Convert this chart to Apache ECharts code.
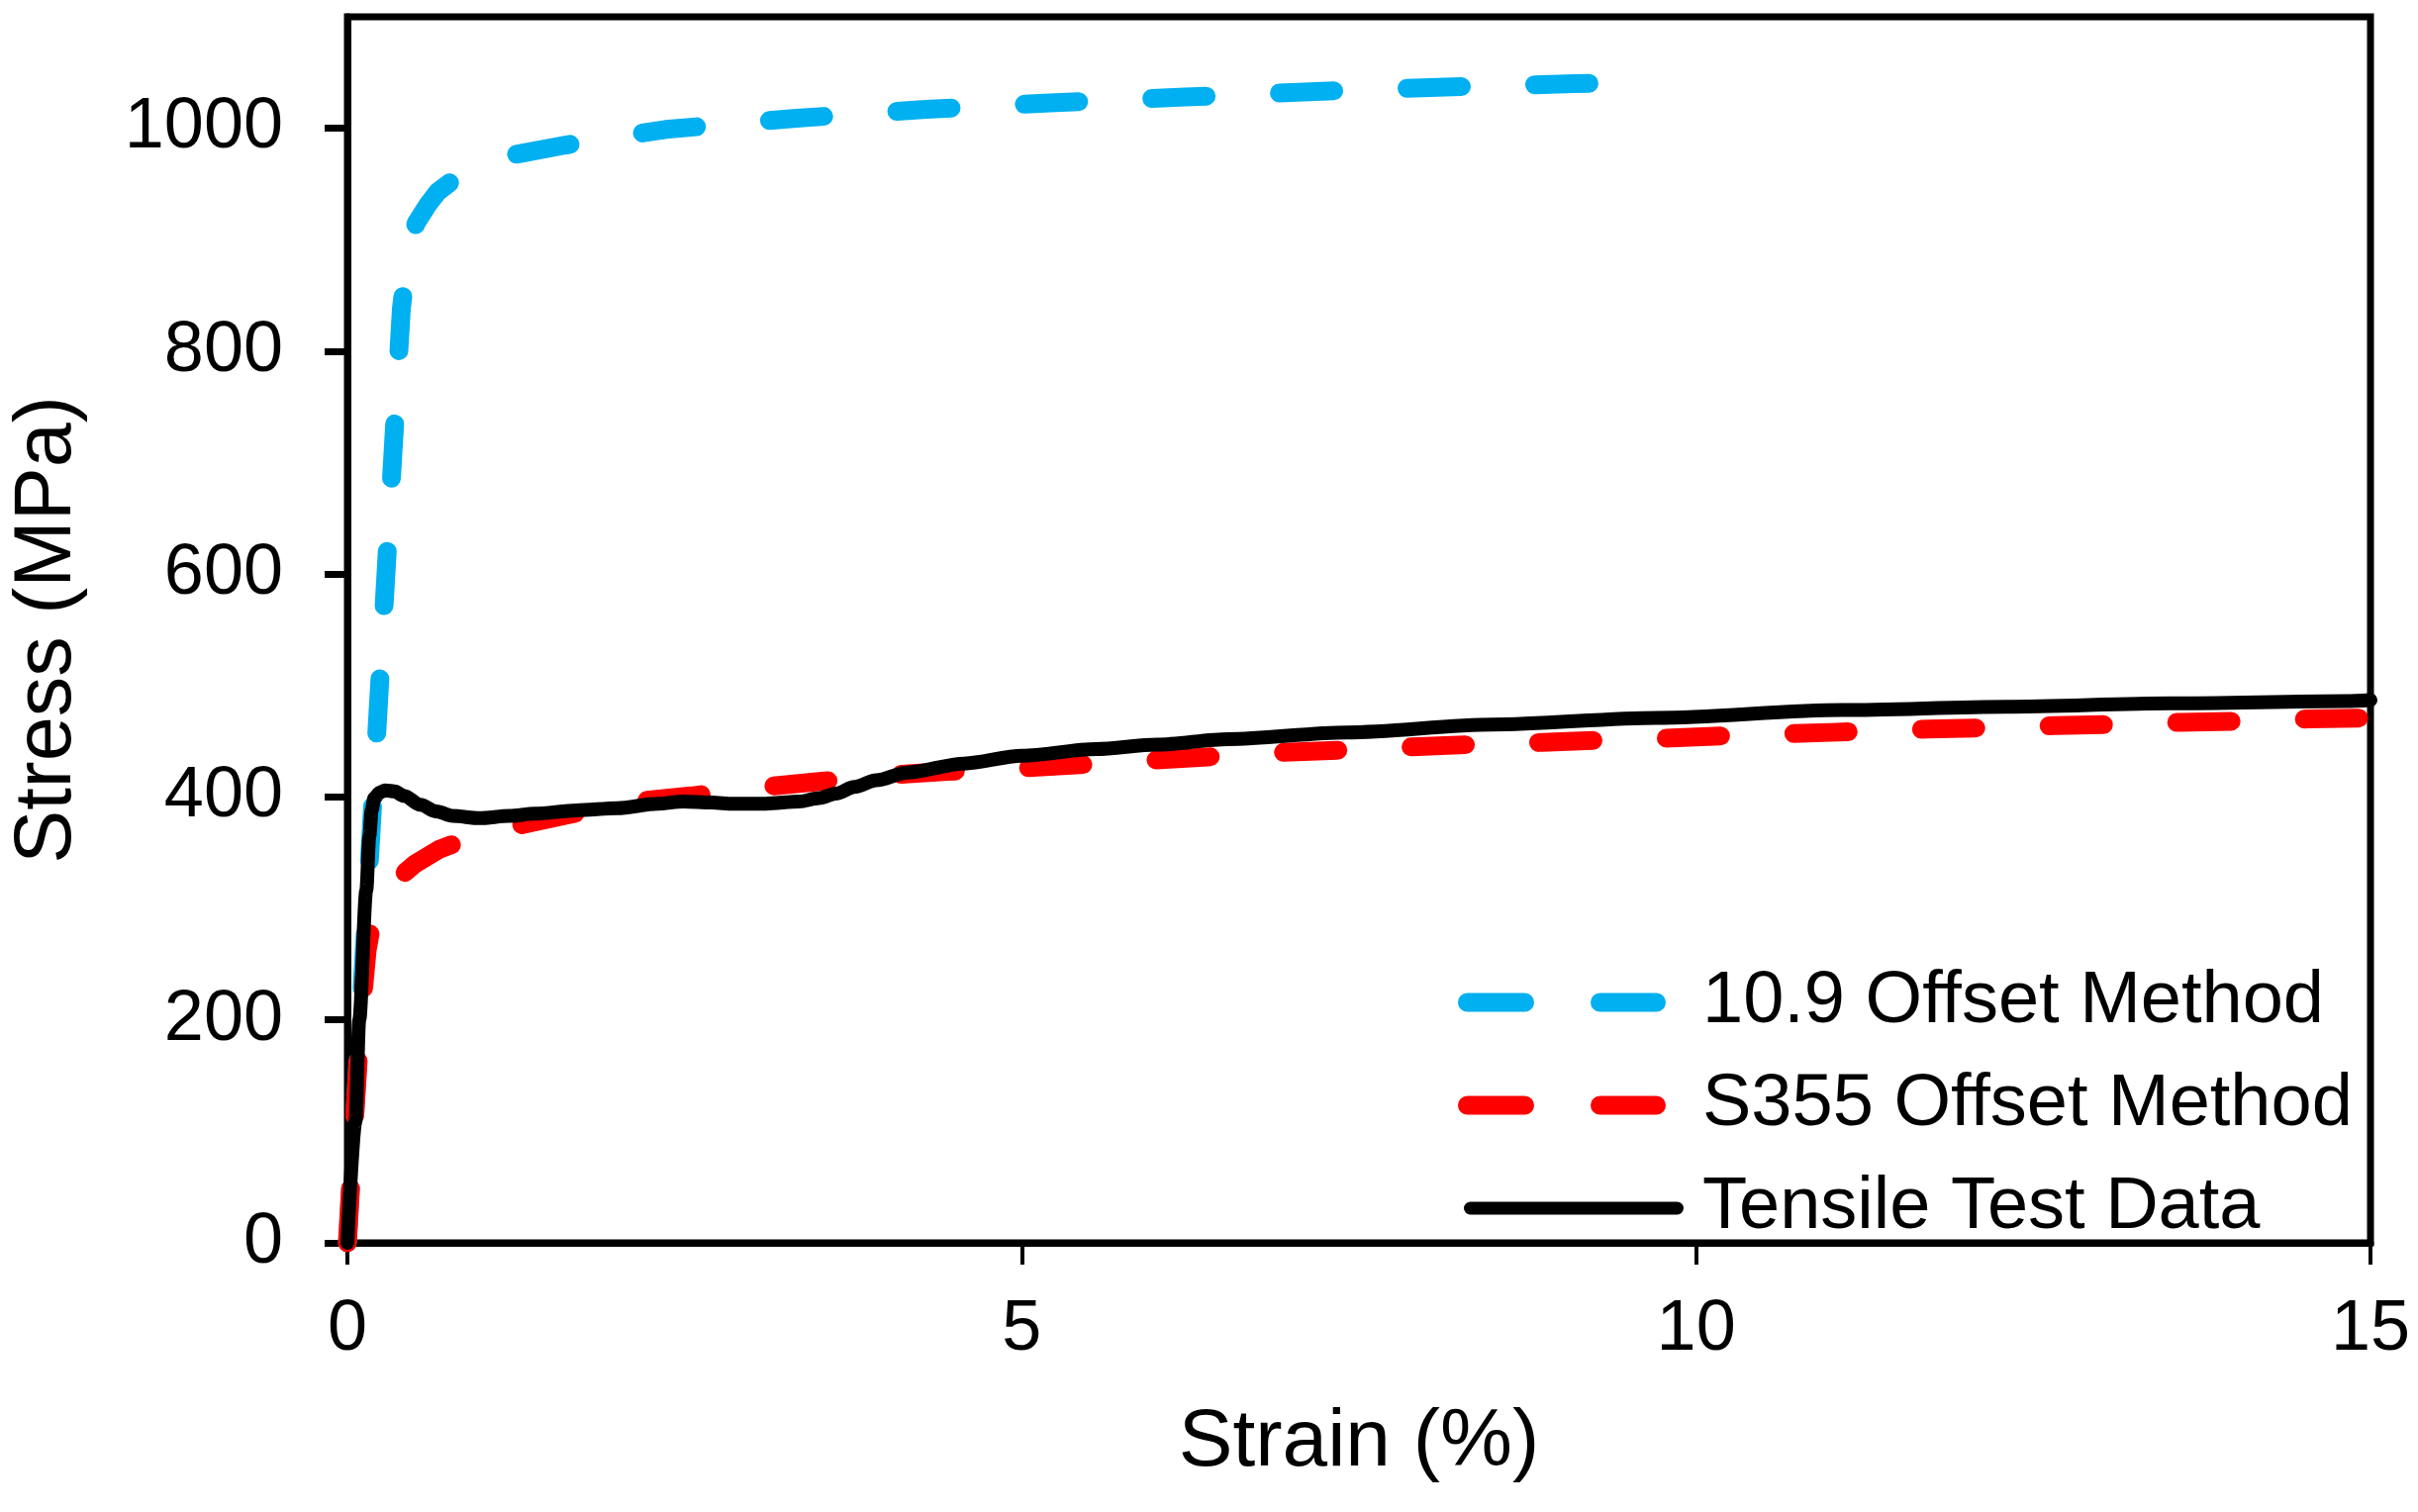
<!DOCTYPE html>
<html>
<head>
<meta charset="utf-8">
<script src="https://cdn.jsdelivr.net/npm/echarts@6/dist/echarts.min.js"></script>
<style>
html,body{margin:0;padding:0;background:#fff;}
#chart{width:2443px;height:1528px;}
</style>
</head>
<body>
<div id="chart"></div>
<script>
// ---- data ----
const blueStrain = [0, 0.1, 0.2, 0.3, 0.4, 0.45, 0.51, 0.6, 0.67, 0.8, 1.0, 1.22, 1.62, 2.36, 3.33, 4.29, 5.25, 6.21, 7.18, 8.14, 9.1, 9.38];
const blueStress = [0, 210, 420, 630, 838, 888, 915, 932, 943, 955, 966, 976, 985, 999, 1009, 1017, 1023, 1028, 1033, 1037, 1040, 1041];

const redStrain = [0, 0.042, 0.073, 0.103, 0.147, 0.19, 0.25, 0.33, 0.5, 0.68, 0.9, 1.17, 1.59, 2.13, 2.55, 3.08, 3.5, 4.06, 4.45, 5.01, 5.43, 5.96, 6.38, 6.93, 7.34, 7.89, 8.31, 8.86, 9.27, 9.82, 10.23, 11.0, 11.72, 12.13, 12.66, 13.06, 13.59, 14.0, 14.53, 15];
const redStress = [0, 90, 150, 207, 263, 292, 310, 322, 340, 353, 363, 372, 383, 396, 401, 409, 414, 420, 423, 426, 429, 433, 436, 440, 442, 445, 447, 449, 451, 453, 455, 458, 461, 462, 464, 465, 467, 468, 470, 471];

const blackStrain = [0, 0.06, 0.088, 0.14, 0.163, 0.18, 0.2, 0.24, 0.28, 0.35, 0.42, 0.54, 0.66, 0.78, 0.98, 1.2, 1.39, 1.7, 2.0, 2.3, 2.49, 2.7, 2.86, 3.1, 3.35, 3.5, 3.62, 3.76, 3.92, 4.15, 4.57, 5.0, 5.55, 6.0, 6.53, 7.41, 8.49, 9.71, 11.08, 12.3, 13.52, 14.82, 15];
const blackStress = [0, 109, 200, 316, 365, 388, 399, 404, 406, 405, 401, 393, 387, 383, 381, 383, 385, 388, 390, 394, 396, 395, 394, 394, 396, 399, 403, 409, 415, 422, 430, 437, 443, 447, 452, 458, 465, 471, 478, 481, 484, 486, 487];

const seriesNames = ['10.9 Offset Method', 'S355 Offset Method', 'Tensile Test Data'];
const xTicks = [0, 5, 10, 15];
const yTicks = [0, 200, 400, 600, 800, 1000];
const xAxisTitle = 'Strain (%)';
const yAxisTitle = 'Stress (MPa)';

// ---- build ----
function pairs(xs, ys) { return xs.map((x, i) => [x, ys[i]]); }
const FONT = '"Liberation Sans", Arial, Helvetica, sans-serif';
const BLUE = '#00B0F0', RED = '#FF0000', BLACK = '#000000';

const dashIcon = 'path://M0 9.5 M9.5 0 H67.5 A9.5 9.5 0 0 1 67.5 19 H9.5 A9.5 9.5 0 0 1 9.5 0 Z M143.5 0 H200.5 A9.5 9.5 0 0 1 200.5 19 H143.5 A9.5 9.5 0 0 1 143.5 0 Z M228 9.5';
const solidIcon = 'path://M0 6.5 M12.5 0 H221.5 A6.5 6.5 0 0 1 221.5 13 H12.5 A6.5 6.5 0 0 1 12.5 0 Z M228 6.5';

const chart = echarts.init(document.getElementById('chart'), null, {renderer: 'canvas'});
chart.setOption({
  animation: false,
  backgroundColor: '#ffffff',
  textStyle: {fontFamily: FONT},
  grid: {left: 350, right: 48, top: 17, bottom: 272, show: true, borderColor: BLACK, borderWidth: 7, backgroundColor: 'transparent'},
  legend: {
    orient: 'vertical', left: 1473, top: 973, padding: 0,
    itemWidth: 228, itemHeight: 19, itemGap: 24,
    symbolKeepAspect: true,
    itemStyle: {borderWidth: 0},
    textStyle: {fontSize: 74, color: BLACK, fontFamily: FONT, lineHeight: 80, padding: [0, 0, 0, 14]},
    data: [
      {name: seriesNames[0], icon: dashIcon, itemStyle: {color: BLUE}},
      {name: seriesNames[1], icon: dashIcon, itemStyle: {color: RED}},
      {name: seriesNames[2], icon: solidIcon, itemStyle: {color: BLACK}}
    ]
  },
  xAxis: {
    type: 'value', min: xTicks[0], max: xTicks[xTicks.length - 1], interval: 5,
    name: xAxisTitle, nameLocation: 'middle', nameGap: 161,
    nameTextStyle: {fontSize: 82, color: BLACK, fontFamily: FONT},
    axisLine: {show: true, onZero: false, lineStyle: {color: BLACK, width: 7}},
    axisTick: {show: true, inside: false, length: 22, lineStyle: {color: BLACK, width: 4}},
    axisLabel: {fontSize: 72, color: BLACK, margin: 52, fontFamily: FONT, formatter: v => String(v)},
    splitLine: {show: false}
  },
  yAxis: {
    type: 'value', min: 0, max: 1100, interval: 200,
    name: yAxisTitle, nameLocation: 'middle', nameGap: 262,
    nameTextStyle: {fontSize: 81, color: BLACK, fontFamily: FONT},
    axisLine: {show: true, onZero: false, lineStyle: {color: BLACK, width: 7}},
    axisTick: {show: true, inside: false, length: 23, lineStyle: {color: BLACK, width: 7}, customValues: yTicks},
    axisLabel: {fontSize: 72, color: BLACK, margin: 65, fontFamily: FONT, customValues: yTicks, formatter: v => String(v)},
    splitLine: {show: false}
  },
  series: [
    {name: seriesNames[0], type: 'line', data: pairs(blueStrain, blueStress), showSymbol: false, symbol: 'none', smooth: false,
     lineStyle: {color: BLUE, width: 19, type: [55, 74], cap: 'round', join: 'round'}, itemStyle: {color: BLUE}, z: 2},
    {name: seriesNames[1], type: 'line', data: pairs(redStrain, redStress), showSymbol: false, symbol: 'none', smooth: false,
     lineStyle: {color: RED, width: 19, type: [55, 74], cap: 'round', join: 'round'}, itemStyle: {color: RED}, z: 3},
    {name: seriesNames[2], type: 'line', data: pairs(blackStrain, blackStress), showSymbol: false, symbol: 'none', smooth: 0.3, smoothMonotone: 'x',
     lineStyle: {color: BLACK, width: 14, type: 'solid', cap: 'round', join: 'round'}, itemStyle: {color: BLACK}, z: 4}
  ]
});
</script>
</body>
</html>
